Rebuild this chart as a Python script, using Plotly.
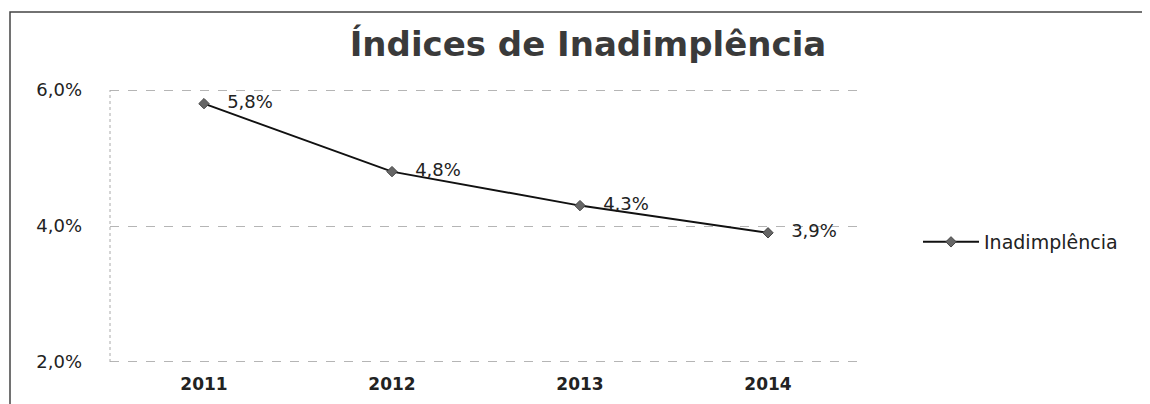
import plotly.graph_objects as go

years = ["2011", "2012", "2013", "2014"]
values = [5.8, 4.8, 4.3, 3.9]
labels = ["5,8%", "4,8%", "4,3%", "3,9%"]
ytick_vals = [2, 4, 6]
ytick_text = ["2,0%", "4,0%", "6,0%"]

OFF = 8  # page body margin
W, H = 1142, 396
# plot area in page coords: x 110..862, y 88..364 (range 1.97..6.03)
L = 110 - OFF
T = 88 - OFF
R = W - (862 - OFF)
B = H - (364 - OFF)
pw, ph = W - L - R, H - T - B

def px(x):
    return (x - OFF - L) / pw

def py(y):
    return (H - B - (y - OFF)) / ph

FONT = "DejaVu Sans"
PAD = "\u00a0\u00a0\u00a0"

fig = go.Figure()
fig.add_trace(go.Scatter(
    x=years, y=values, mode="lines+markers+text",
    name="Inadimplência",
    text=[PAD + t for t in labels], textposition="middle right",
    textfont=dict(family=FONT, size=18, color="#222"),
    line=dict(color="#111", width=2),
    marker=dict(symbol="diamond", size=8, color="#666", line=dict(color="#444", width=1)),
    cliponaxis=False,
))

fig.update_layout(
    width=W, height=H,
    margin=dict(l=L, r=R, t=T, b=B, autoexpand=False),
    paper_bgcolor="white", plot_bgcolor="white",
    font=dict(family=FONT, color="#222"),
    title=dict(text="<b>Índices de Inadimplência</b>", x=(588 - OFF) / W, xanchor="center",
               y=1 - (44 - OFF) / H, yanchor="middle",
               font=dict(family=FONT, size=34, color="#3a3a3a")),
    showlegend=True,
    legend=dict(x=px(918), y=py(242), xanchor="left", yanchor="middle",
                itemwidth=56,
                font=dict(family=FONT, size=19, color="#222"),
                bgcolor="rgba(0,0,0,0)"),
    xaxis=dict(type="category", range=[-0.5, 3.5], showgrid=False, zeroline=False,
               showline=False, ticks="", automargin=False,
               tickfont=dict(family=FONT, size=17, color="#222"),
               tickprefix="<b>", ticksuffix="</b>", ticklabelstandoff=8),
    yaxis=dict(range=[1.97, 6.03], tickvals=ytick_vals, ticktext=ytick_text,
               showgrid=True, gridcolor="#b5b5b5", griddash="dash", gridwidth=1,
               zeroline=False, showline=False, automargin=False,
               ticks="", tickfont=dict(family=FONT, size=18, color="#222"),
               ticklabelstandoff=27),
)

# dotted vertical axis line
fig.add_shape(type="line", xref="paper", yref="paper", x0=0, x1=0, y0=py(362), y1=py(90),
              line=dict(color="#aaaaaa", width=1, dash="dot"))

# outer chart border
fig.add_shape(type="rect", xref="paper", yref="paper",
              x0=px(10), x1=px(1160), y0=py(420), y1=py(12),
              line=dict(color="#444", width=1.5), fillcolor="rgba(0,0,0,0)")

fig.write_html("out.html")
